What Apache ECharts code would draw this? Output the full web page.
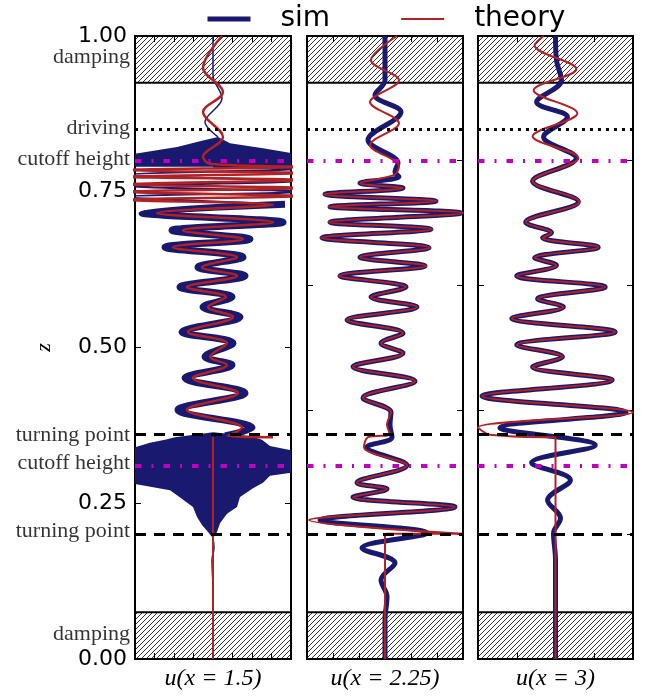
<!DOCTYPE html>
<html lang="en">
<head>
  <meta charset="UTF-8">
  <title>sim vs theory</title>
  <script src="https://cdn.jsdelivr.net/npm/echarts@6/dist/echarts.min.js"></script>
  <style>
    body { margin: 0; padding: 0; background: #fff; }
    #main { width: 646px; height: 696px; }
  </style>
</head>
<body>
<div id="main"></div>
<script>
// heights (z) of the marked layers
const dampingTop = 0.925;
const dampingBottom = 0.075;
const drivingZ = 0.852;
const cutoffZ = [0.797, 0.309];
const turningZ = [0.356, 0.200];

// left-hand text labels
const sideLabels = [
  ['damping', 0.966], ['driving', 0.852], ['cutoff height', 0.803],
  ['turning point', 0.360], ['cutoff height', 0.315], ['turning point', 0.205],
  ['damping', 0.040]
];

const panelNames = ['u(x = 1.5)', 'u(x = 2.25)', 'u(x = 3)'];
const tickStep = [1.95, 2.6, 3.9];

// panel 1, x = 1.5   ([u, z] pairs)
const theory1 = [[0.9,1.0],[-1.0,0.949],[1.0,0.910],[-1.0,0.878],[1.0,0.838],[-1.0,0.806],[-0.3,0.795],
  [8.5,0.790],[-8.5,0.785],[8.5,0.780],[-8.5,0.774],[8.5,0.769],[-8.5,0.762],[8.5,0.756],[-8.5,0.750],
  [8.5,0.743],[-8.5,0.737],[6.0,0.729],[-5.6,0.716],[6.0,0.701],[-3.0,0.688],[3.0,0.674],[-4.0,0.661],
  [2.4,0.645],[-1.1,0.629],[2.4,0.615],[-2.6,0.597],[1.3,0.581],[-0.5,0.565],[2.0,0.549],[-2.5,0.525],
  [1.4,0.507],[-0.3,0.485],[1.4,0.472],[-2.0,0.451],[2.5,0.427],[-2.6,0.400],[2.9,0.371],[1.5,0.358],[6.0,0.356]];
const theory1Base = [[0,0.356],[0,0]];
const sim1Top = [[0,1.0],[0,0.937],[0.9,0.900],[-0.8,0.862],[0.5,0.838]];
const sim1BlobTop = [[0.5,0.838],[1.7,0.828],[5.0,0.820],[7.8,0.812],[7.8,0.790],[-7.8,0.790],[-7.8,0.811],[-3.6,0.822],[-0.8,0.833]];
const sim1Fast = [[0,0.790],[8.5,0.787],[-8.5,0.777],[8.5,0.767],[-8.5,0.759],[8.5,0.750],[-8.5,0.742],[7.2,0.730]];
const sim1Band = [[7.2,0.730],[-7.1,0.716],[7.0,0.701],[-4.1,0.688],[3.7,0.674],[-4.8,0.661],[3.0,0.645],
  [-1.5,0.629],[3.2,0.615],[-3.3,0.597],[1.9,0.581],[-1.0,0.565],[2.7,0.549],[-3.1,0.525],[2.0,0.507],
  [-0.8,0.485],[1.9,0.472],[-2.8,0.451],[3.2,0.427],[-3.5,0.400],[3.9,0.371],[1.2,0.358]];
const sim1BlobLow = [[-3.8,0.356],[0,0.364],[3.7,0.358],[4.9,0.352],[5.7,0.342],[7.8,0.335],[7.8,0.299],
  [5.7,0.294],[5.0,0.283],[4.0,0.274],[2.7,0.260],[2.4,0.244],[1.4,0.233],[0.7,0.218],[0.4,0.204],[0,0.194],
  [-0.5,0.204],[-1.1,0.215],[-1.6,0.228],[-2.0,0.244],[-3.6,0.263],[-4.3,0.271],[-7.8,0.281],[-7.8,0.340],
  [-6.3,0.347],[-4.8,0.352]];
const sim1Bottom = [[0,0.194],[0.1,0.178],[-0.1,0.159],[0,0.111],[0,0]];

// panel 2, x = 2.25
const theory2 = [[1.2,1.0],[-1.4,0.961],[1.4,0.929],[-1.5,0.894],[1.4,0.860],[-1.5,0.825],[1.4,0.791],
  [0.9,0.777],[-2.5,0.764],[1.8,0.756],[-6.1,0.746],[5.2,0.735],[-5.6,0.726],[7.8,0.716],[-5.6,0.701],
  [4.7,0.690],[-6.4,0.676],[4.5,0.660],[-2.5,0.645],[4.1,0.631],[-4.6,0.615],[2.1,0.597],[-1.4,0.581],
  [3.2,0.565],[-3.8,0.544],[1.8,0.523],[-0.4,0.507],[1.8,0.491],[-3.2,0.469],[3.0,0.446],[-2.2,0.419],
  [0.6,0.396],[0.2,0.376],[0.5,0.361],[-1.7,0.356],[-2.1,0.340],[2.2,0.311],[-2.8,0.283],[0.2,0.273],
  [-3.2,0.260],[7.0,0.244],[-7.6,0.223],[7.8,0.201],[0.1,0.201]];
const theory2Base = [[0,0.201],[0,0]];
const sim2 = [[0,1.0],[0,0.929],[-1.0,0.905],[1.6,0.878],[-1.7,0.833],[1.3,0.796],[1.0,0.782],[1.4,0.774],
  [-2.5,0.764],[1.8,0.756],[-6.0,0.746],[5.1,0.735],[-5.5,0.726],[7.6,0.716],[-5.5,0.701],[4.6,0.690],
  [-6.3,0.676],[4.4,0.660],[-2.5,0.645],[4.0,0.631],[-4.5,0.615],[2.1,0.597],[-1.4,0.581],[3.2,0.565],
  [-3.8,0.544],[1.8,0.523],[-0.4,0.507],[1.8,0.491],[-3.2,0.469],[3.0,0.446],[-2.2,0.419],[0.6,0.396],
  [0.5,0.376],[0.7,0.356],[-1.8,0.340],[2.2,0.311],[-2.8,0.283],[0.2,0.273],[-3.2,0.260],[7.0,0.244],
  [-6.5,0.223],[4.2,0.202],[-2.3,0.178],[1.0,0.154],[-0.4,0.127],[0.2,0.100],[0,0.063],[0,0]];

// panel 3, x = 3
const theory3 = [[-1.2,1.0],[-2.1,0.985],[2.1,0.947],[-2.2,0.913],[2.2,0.876],[-2.3,0.839],[2.3,0.804],
  [-2.3,0.767],[2.4,0.734],[-3.0,0.701],[-0.4,0.684],[-1.3,0.676],[4.3,0.661],[-2.1,0.644],[0.1,0.632],
  [-3.9,0.615],[5.0,0.597],[-1.8,0.578],[0.8,0.565],[-4.4,0.547],[6.0,0.525],[-3.9,0.504],[0.7,0.485],
  [-2.3,0.469],[5.7,0.448],[-7.4,0.422],[7.8,0.396],[-7.8,0.372],[-6.6,0.360],[0,0.356]];
const theory3Base = [[0,0.356],[0,0]];
const sim3 = [[0,1.0],[0.1,0.961],[0.6,0.929],[-1.9,0.894],[1.2,0.870],[-1.2,0.838],[2.1,0.804],[-2.3,0.767],
  [2.3,0.734],[-3.0,0.701],[-0.4,0.684],[-1.3,0.676],[4.3,0.661],[-2.1,0.644],[0.1,0.632],[-3.9,0.615],
  [5.0,0.597],[-1.8,0.578],[0.8,0.565],[-4.4,0.547],[6.0,0.525],[-3.9,0.504],[0.7,0.485],[-2.3,0.469],
  [5.7,0.448],[-7.4,0.422],[7.1,0.396],[-5.6,0.371],[4.0,0.343],[-2.4,0.315],[1.5,0.287],[-0.8,0.255],
  [0.5,0.226],[-0.2,0.202],[0,0.159],[0,0]];

const navy = '#191970';
const red = '#b22222';
const magenta = '#bf00bf';

// hatch pattern for the damping layers
function makeHatch() {
  const c = document.createElement('canvas');
  c.width = 5; c.height = 5;
  const g = c.getContext('2d');
  g.strokeStyle = '#000';
  g.lineWidth = 0.8;
  g.beginPath();
  g.moveTo(0, 5); g.lineTo(5, 0);
  g.moveTo(-1, 1); g.lineTo(1, -1);
  g.moveTo(4, 6); g.lineTo(6, 4);
  g.stroke();
  return c;
}
const hatch = makeHatch();

const grids = [
  { left: 135, top: 36, width: 156, height: 623 },
  { left: 307, top: 36, width: 156, height: 623 },
  { left: 478, top: 36, width: 155, height: 623 }
];

const xAxes = [], yAxes = [];
grids.forEach(function (g, i) {
  const common = {
    gridIndex: i, type: 'value', min: -7.8, max: 7.8, interval: tickStep[i],
    axisLine: { show: true, onZero: false, lineStyle: { color: '#000', width: 2 } },
    axisTick: { show: true, inside: true, length: 6, lineStyle: { color: '#000', width: 1 } },
    axisLabel: { show: false }, splitLine: { show: false }
  };
  xAxes.push(Object.assign({}, common, {
    position: 'bottom', name: panelNames[i], nameLocation: 'middle', nameGap: 8,
    nameTextStyle: { fontFamily: 'Liberation Serif', fontStyle: 'italic', fontSize: 24, color: '#000', verticalAlign: 'top' }
  }));
  xAxes.push(Object.assign({}, common, { position: 'top' }));
  const ycommon = {
    gridIndex: i, type: 'value', min: 0, max: 1, interval: i === 0 ? 0.25 : 0.2,
    axisLine: { show: true, onZero: false, lineStyle: { color: '#000', width: 2 } },
    axisTick: { show: true, inside: true, length: 6, lineStyle: { color: '#000', width: 1 } },
    splitLine: { show: false }
  };
  yAxes.push(Object.assign({}, ycommon, {
    position: 'left',
    axisLabel: {
      show: i === 0, margin: 8, fontFamily: 'DejaVu Sans', fontSize: 22, color: '#000',
      formatter: function (v) { return v.toFixed(2); }
    },
    name: i === 0 ? 'z' : '', nameLocation: 'middle', nameGap: 80,
    nameTextStyle: { fontFamily: 'Liberation Serif', fontStyle: 'italic', fontSize: 22, color: '#000' }
  }));
  yAxes.push(Object.assign({}, ycommon, { position: 'right', axisLabel: { show: false } }));
});

function line(name, i, data, color, width, z) {
  return {
    type: 'line', name: name, xAxisIndex: i * 2, yAxisIndex: i * 2, data: data,
    symbol: 'none', smooth: data.length > 2 ? 0.35 : false, clip: true, z: z,
    lineStyle: { color: color, width: width }, itemStyle: { color: color }
  };
}

function blob(i, pts) {
  return {
    type: 'custom', name: 'sim', xAxisIndex: i * 2, yAxisIndex: i * 2, data: pts, z: 2, clip: true,
    renderItem: function (params, api) {
      if (params.dataIndex !== 0) return;
      return {
        type: 'polygon',
        shape: { points: pts.map(function (p) { return api.coord(p); }) },
        style: { fill: navy }
      };
    }
  };
}

// hatched layers for a panel
function frame(i) {
  return {
    type: 'line', name: 'frame' + i, xAxisIndex: i * 2, yAxisIndex: i * 2, data: [],
    symbol: 'none', z: 1, silent: true,
    markArea: {
      silent: true,
      itemStyle: { color: { image: hatch, repeat: 'repeat' }, borderColor: '#000', borderWidth: 2 },
      data: [
        [{ coord: [-7.8, dampingTop] }, { coord: [7.8, 1] }],
        [{ coord: [-7.8, 0] }, { coord: [7.8, dampingBottom] }]
      ]
    }
  };
}
// horizontal reference lines
function refLines(i) {
  return {
    type: 'line', name: 'ref' + i, xAxisIndex: i * 2, yAxisIndex: i * 2, data: [],
    symbol: 'none', z: 10, silent: true,
    markLine: {
      silent: true, symbol: ['none', 'none'], label: { show: false }, animation: false,
      data: [
        { yAxis: drivingZ, lineStyle: { color: '#000', width: 3, type: [3, 5] } },
        { yAxis: cutoffZ[0], lineStyle: { color: magenta, width: 4, type: [6.5, 10, 2, 10] } },
        { yAxis: cutoffZ[1], lineStyle: { color: magenta, width: 4, type: [6.5, 10, 2, 10] } },
        { yAxis: turningZ[0], lineStyle: { color: '#000', width: 3, type: [11, 8] } },
        { yAxis: turningZ[1], lineStyle: { color: '#000', width: 3, type: [11, 8] } }
      ]
    }
  };
}

const series = [
  line('sim', 1, sim2, navy, 5, 3),
  line('theory', 1, theory2, red, 2, 4),
  line('theory', 1, theory2Base, red, 2, 4),
  line('sim', 2, sim3, navy, 5, 3),
  line('theory', 2, theory3, red, 2, 4),
  line('theory', 2, theory3Base, red, 2, 4),
  line('sim', 0, sim1Top, navy, 1.5, 3),
  blob(0, sim1BlobTop),
  line('sim', 0, sim1Fast, navy, 2, 3),
  line('sim', 0, sim1Band, navy, 7, 3),
  blob(0, sim1BlobLow),
  line('sim', 0, sim1Bottom, navy, 1.5, 3),
  line('theory', 0, theory1, red, 2.5, 4),
  line('theory', 0, theory1Base, red, 2, 4),
  {
    type: 'scatter', name: 'labels', xAxisIndex: 0, yAxisIndex: 0, symbolSize: 0, silent: true,
    data: sideLabels.map(function (d) { return { name: d[0], value: [-7.8, d[1]] }; }),
    label: {
      show: true, position: 'left', distance: 5, formatter: '{b}',
      fontFamily: 'Liberation Serif', fontSize: 22, color: '#000'
    }
  }
];
grids.forEach(function (g, i) { series.push(frame(i)); series.push(refLines(i)); });

const chart = echarts.init(document.getElementById('main'));
chart.setOption({
  animation: false,
  backgroundColor: '#fff',
  legend: {
    data: [
      { name: 'sim', lineStyle: { width: 5 }, itemStyle: { opacity: 0 } },
      { name: 'theory', lineStyle: { width: 2 }, itemStyle: { opacity: 0 } }
    ],
    left: 200, top: 0, itemWidth: 43, itemHeight: 16, itemGap: 70,
    textStyle: { fontFamily: 'DejaVu Sans', fontSize: 28, color: '#000', padding: [0, 0, 0, 25] }
  },
  grid: grids,
  xAxis: xAxes,
  yAxis: yAxes,
  series: series
});
</script>
</body>
</html>
